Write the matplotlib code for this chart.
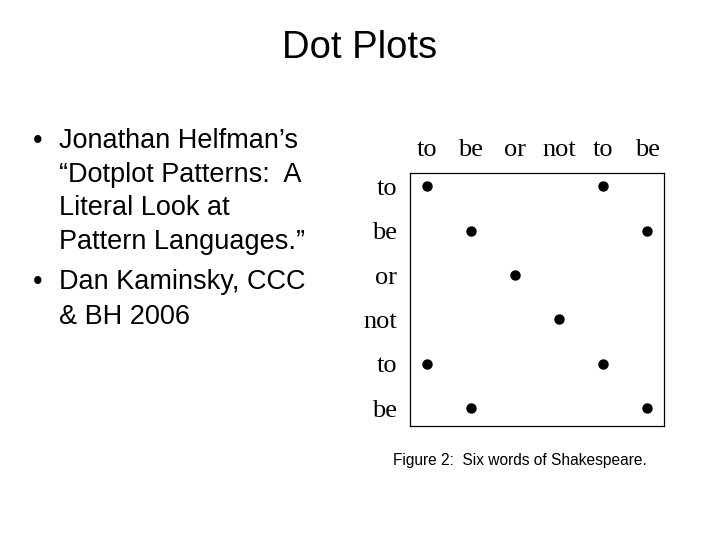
import matplotlib.pyplot as plt

# slide text
title = "Dot Plots"
bullets = [
    ["Jonathan Helfman\u2019s", "\u201cDotplot Patterns:  A", "Literal Look at", "Pattern Languages.\u201d"],
    ["Dan Kaminsky, CCC", "& BH 2006"],
]
caption = "Figure 2:  Six words of Shakespeare."

# dot plot data: six words, dot wherever row word == column word
words = ["to", "be", "or", "not", "to", "be"]
dot_cols = [0, 4, 1, 5, 2, 3, 0, 4, 1, 5]
dot_rows = [0, 0, 1, 1, 2, 3, 4, 4, 5, 5]

W, H = 720, 540
fig = plt.figure(figsize=(7.2, 5.4), dpi=100)

def fx(px):
    return px / W

def fy(py):
    return 1 - py / H

# title
fig.text(0.5, fy(58), title, ha='center', va='baseline', fontsize=27.5,
         family='Liberation Sans', color='black')

# bullet lines (baselines in pixels)
baselines = [[148, 182, 215, 249], [289, 324]]
for lines, ys in zip(bullets, baselines):
    fig.text(fx(33), fy(ys[0]), "\u2022", ha='left', va='baseline', fontsize=19.5,
             family='Liberation Sans')
    for line, y in zip(lines, ys):
        fig.text(fx(59), fy(y), line, ha='left', va='baseline', fontsize=19.5,
                 family='Liberation Sans')

# the dot plot itself
ax = fig.add_axes([fx(410), fy(426), fx(664) - fx(410), fy(173) - fy(426)])
ax.plot(dot_cols, dot_rows, 'o', color='black', markersize=6.5)
ax.set_xlim(-0.38, 5.38)
ax.set_ylim(5.4, -0.3)
ax.set_xticks(range(len(words)))
ax.set_xticklabels(words)
ax.set_yticks(range(len(words)))
ax.set_yticklabels(words)
ax.xaxis.tick_top()
ax.tick_params(length=0, pad=9, labelsize=19)
for lab in ax.get_xticklabels() + ax.get_yticklabels():
    lab.set_family('Liberation Serif')
for sp in ax.spines.values():
    sp.set_linewidth(0.9)

fig.text(fx(393), fy(460), caption, ha='left', va='center', fontsize=11.2,
         family='Liberation Sans')

fig.savefig("out.png", dpi=100)
